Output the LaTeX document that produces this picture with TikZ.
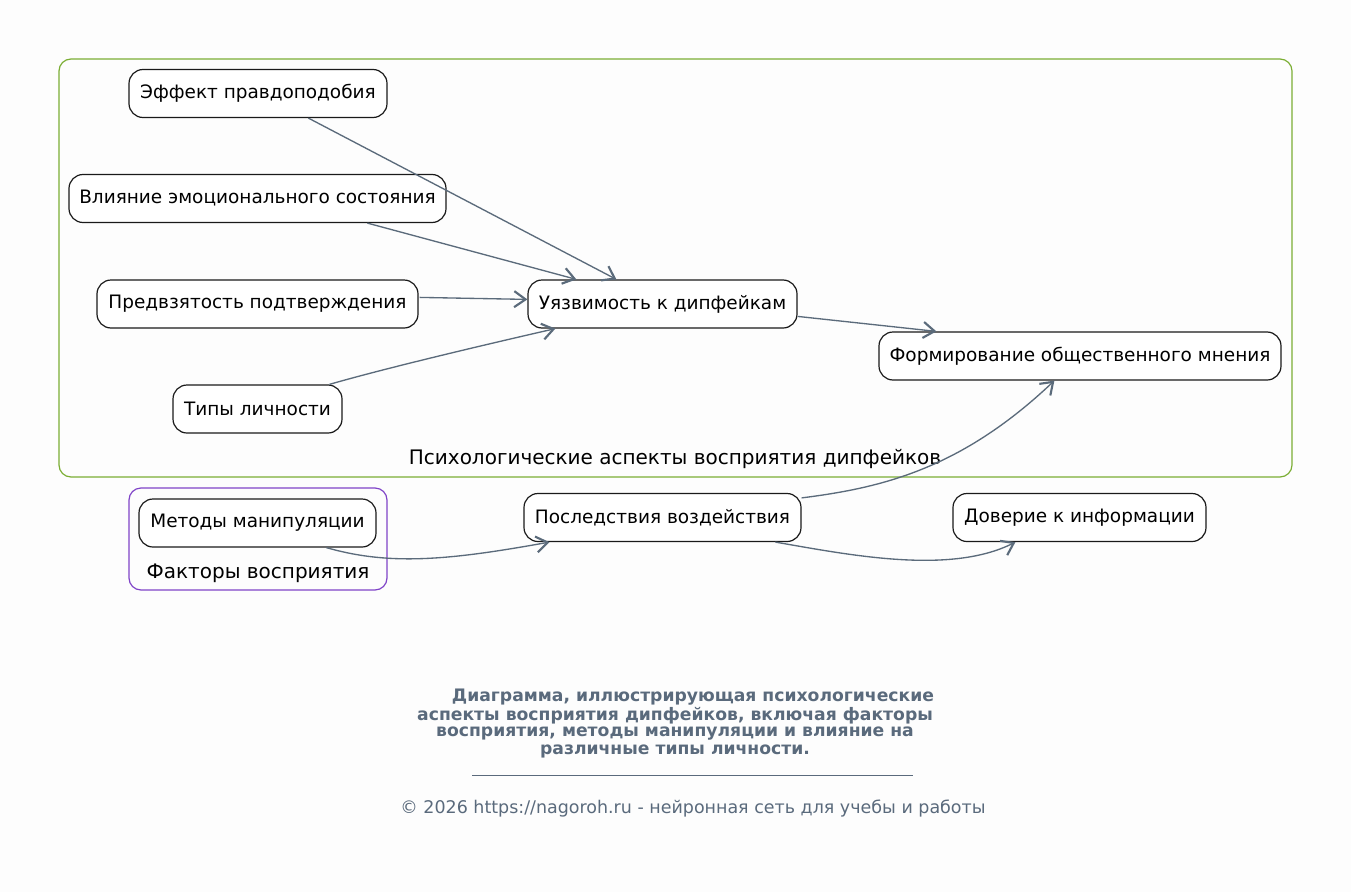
\documentclass[tikz,border=0pt]{standalone}
\usepackage{fontspec}
\setmainfont{DejaVu Sans}
\usetikzlibrary{arrows.meta,calc}
\definecolor{edgec}{HTML}{5B6B7B}
\definecolor{capc}{HTML}{5A6A7C}
\definecolor{bgc}{HTML}{FDFDFD}
\definecolor{grc}{HTML}{7BAE34}
\definecolor{puc}{HTML}{8044C8}
\definecolor{boxc}{HTML}{1A1A1A}
\begin{document}
\begin{tikzpicture}[x=0.75pt,y=-0.75pt,
  box/.style={draw=boxc, line width=0.9pt, rounded corners=10.5pt, fill=white,
    minimum height=36pt, inner sep=0pt, font=\fontsize{13.85}{17}\selectfont},
  bw/.style={minimum width=#1*0.75pt},
  cluster/.style={line width=0.9pt, rounded corners=9pt, inner sep=0pt},
  clabel/.style={font=\fontsize{15}{18}\selectfont, inner sep=0pt},
  edge/.style={draw=edgec, line width=1pt, -{Straight Barb[length=8.5pt,width=12pt,line width=1.6pt]}},
  captxt/.style={font=\bfseries\fontsize{12.9}{15}\selectfont, text=capc, inner sep=0pt}]
\fill[bgc] (0,0) rectangle (1351,892);
\useasboundingbox (0,0) rectangle (1351,892);
% clusters
\node[cluster, draw=grc, minimum width=1233*0.75pt, minimum height=418*0.75pt] (gc) at (675.5,268) {};
\node[cluster, draw=puc, minimum width=258*0.75pt, minimum height=102*0.75pt] (pc) at (258,539) {};
\node[clabel] (gcl) at (675,459) {Психологические аспекты восприятия дипфейков};
\node[clabel] (pcl) at (258,573) {Факторы восприятия};
% nodes
\node[box, bw=258] (eff) at (258,93.5) {Эффект правдоподобия};
\node[box, bw=377] (emo) at (257.5,198.5) {Влияние эмоционального состояния};
\node[box, bw=321] (bias) at (257.5,304) {Предвзятость подтверждения};
\node[box, bw=169] (pers) at (257.5,409) {Типы личности};
\node[box, bw=269] (vul) at (662.5,304) {Уязвимость к дипфейкам};
\node[box, bw=402] (op) at (1080,356) {Формирование общественного мнения};
\node[box, bw=237] (man) at (257.5,523) {Методы манипуляции};
\node[box, bw=277] (cons) at (662.5,517.5) {Последствия воздействия};
\node[box, bw=253] (trust) at (1079.5,517.5) {Доверие к информации};
% edges
\draw[edge] ($(eff.south west)+(180,0)$) -- ($(vul.north west)+(89,0)$);
\draw[edge] ($(emo.south west)+(299,0)$) -- ($(vul.north west)+(49,0)$);
\draw[edge] ($(bias.north east)+(1,18)$) -- ($(vul.north west)+(0,20)$);
\draw[edge] ($(pers.north west)+(157,0)$) .. controls (365,374) and (440,355) .. ($(vul.south west)+(28,0)$);
\draw[edge] ($(vul.north east)+(0,37)$) -- ($(op.north west)+(58,0)$);
\draw[edge] ($(cons.north east)+(0,5)$) .. controls (880,488) and (960,470) .. ($(op.south west)+(176,0)$);
\draw[edge] ($(man.south west)+(188,0)$) .. controls (390,566) and (450,560) .. ($(cons.south west)+(26,0)$);
\draw[edge] ($(cons.south west)+(252,0)$) .. controls (850,555) and (950,575) .. ($(trust.south west)+(63,0)$);
% caption
\node[captxt] (c1) at (693,697.5) {Диаграмма, иллюстрирующая психологические};
\node[captxt] (c2) at (675,715.5) {аспекты восприятия дипфейков, включая факторы};
\node[captxt] (c3) at (675,733.5) {восприятия, методы манипуляции и влияние на};
\node[captxt] (c4) at (675,751) {различные типы личности.};
\coordinate (s1) at (472,775);
\coordinate (s2) at (913,775);
\draw[capc, line width=0.7pt] (s1) -- (s2);
\node[font=\fontsize{13.1}{15}\selectfont, text=capc, inner sep=0pt] (copy) at (693,809) {© 2026 https://nagoroh.ru - нейронная сеть для учебы и работы};
\end{tikzpicture}
\end{document}
